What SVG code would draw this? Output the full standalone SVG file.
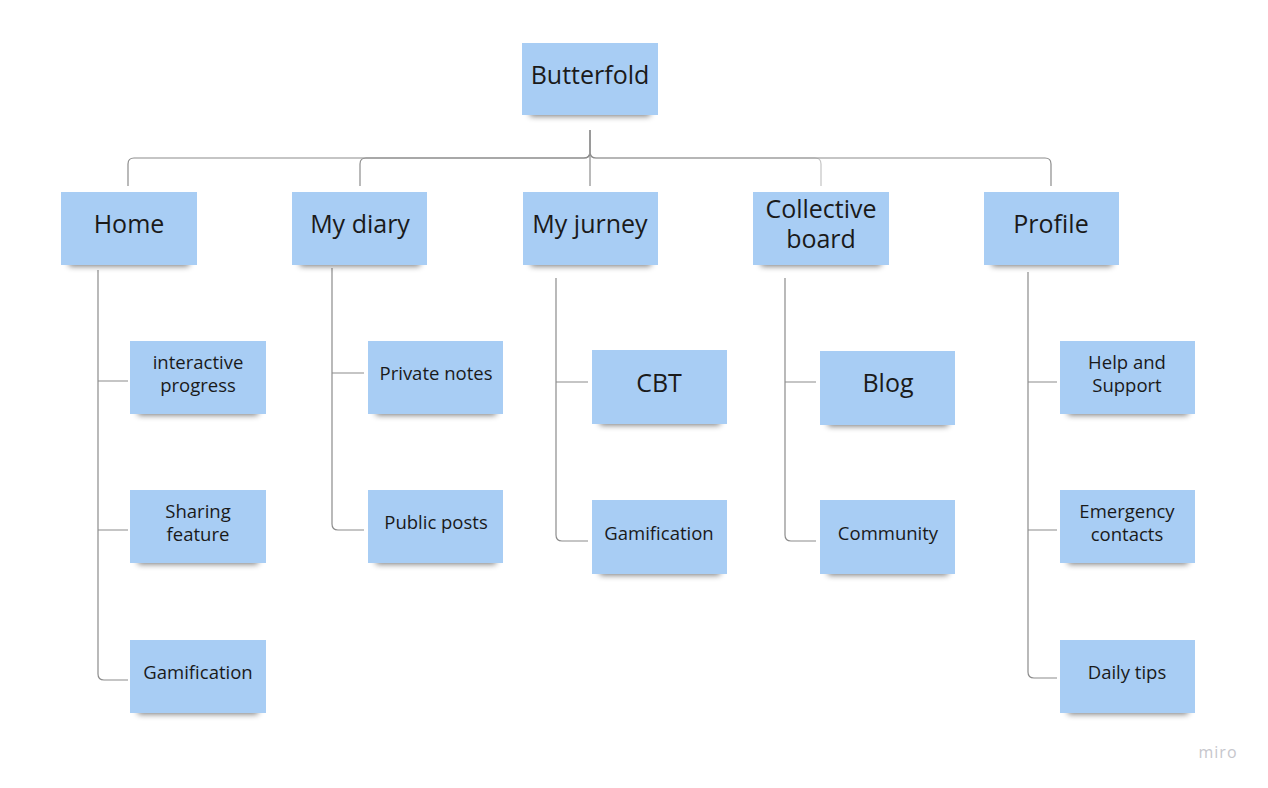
<svg xmlns="http://www.w3.org/2000/svg" width="1268" height="788" viewBox="0 0 1268 788">
<defs>
<filter id="blur" x="-20%" y="-100%" width="140%" height="300%"><feGaussianBlur stdDeviation="3"/></filter>
<style>
.note{fill:#a8cdf4}
.sh{fill:#000;opacity:.55;filter:url(#blur)}
.t{font-family:"Open Sans","Noto Sans",sans-serif;fill:#1a1a1a;text-anchor:middle;dominant-baseline:central}
.big{font-size:25px}
.sm{font-size:18.5px}
.c{fill:none;stroke:#8c8c8c;stroke-width:1.2}
</style>
</defs>
<rect width="1268" height="788" fill="#fff"/>
<g id="connectors">
<path class="c" d="M590 130 V152 Q590 158 584 158 H134 Q128 158 128 164 V186"/>
<path class="c" d="M590 130 V152 Q590 158 584 158 H366 Q360 158 360 164 V186"/>
<path class="c" d="M590 130 V186"/>
<path class="c" style="stroke:#c4c4c4" d="M590 130 V152 Q590 158 596 158 H815 Q821 158 821 164 V186"/>
<path class="c" d="M590 130 V152 Q590 158 596 158 H1045 Q1051 158 1051 164 V186"/>
<path class="c" d="M98 270 V674 Q98 680 104 680 H128 M98 381 H128 M98 530 H128"/>
<path class="c" d="M332 268 V524 Q332 530 338 530 H364 M332 373 H364"/>
<path class="c" d="M556 278 V535 Q556 541 562 541 H588 M556 382 H588"/>
<path class="c" d="M785 278 V535 Q785 541 791 541 H816 M785 382 H816"/>
<path class="c" d="M1028 272 V672 Q1028 678 1034 678 H1057 M1028 382 H1057 M1028 530 H1057"/>
</g>
<g id="butterfold"><rect class="sh" x="530" y="107" width="120" height="9"/><rect class="note" x="522" y="43" width="136" height="72"/><text class="t big" x="590" y="74">Butterfold</text></g>
<g id="home"><rect class="sh" x="69" y="257" width="120" height="9"/><rect class="note" x="61" y="192" width="136" height="73"/><text class="t big" x="129" y="223">Home</text></g>
<g id="mydiary"><rect class="sh" x="300" y="257" width="120" height="9"/><rect class="note" x="292" y="192" width="135" height="73"/><text class="t big" x="360" y="223">My diary</text></g>
<g id="myjurney"><rect class="sh" x="531" y="257" width="120" height="9"/><rect class="note" x="523" y="192" width="135" height="73"/><text class="t big" x="590" y="223">My jurney</text></g>
<g id="collective"><rect class="sh" x="761" y="257" width="120" height="9"/><rect class="note" x="753" y="192" width="136" height="73"/><text class="t big" x="821" y="208">Collective</text><text class="t big" x="821" y="238">board</text></g>
<g id="profile"><rect class="sh" x="992" y="257" width="120" height="9"/><rect class="note" x="984" y="192" width="135" height="73"/><text class="t big" x="1051" y="223">Profile</text></g>
<g id="interactive"><rect class="sh" x="138" y="406" width="120" height="9"/><rect class="note" x="130" y="341" width="136" height="73"/><text class="t sm" x="198" y="361">interactive</text><text class="t sm" x="198" y="384">progress</text></g>
<g id="sharing"><rect class="sh" x="138" y="555" width="120" height="9"/><rect class="note" x="130" y="490" width="136" height="73"/><text class="t sm" x="198" y="510">Sharing</text><text class="t sm" x="198" y="533">feature</text></g>
<g id="gamification1"><rect class="sh" x="138" y="705" width="120" height="9"/><rect class="note" x="130" y="640" width="136" height="73"/><text class="t sm" x="198" y="671">Gamification</text></g>
<g id="private"><rect class="sh" x="376" y="406" width="120" height="9"/><rect class="note" x="368" y="341" width="135" height="73"/><text class="t sm" x="436" y="372">Private notes</text></g>
<g id="public"><rect class="sh" x="376" y="555" width="120" height="9"/><rect class="note" x="368" y="490" width="135" height="73"/><text class="t sm" x="436" y="521">Public posts</text></g>
<g id="cbt"><rect class="sh" x="600" y="416" width="120" height="9"/><rect class="note" x="592" y="350" width="135" height="74"/><text class="t big" x="659" y="382">CBT</text></g>
<g id="gamification2"><rect class="sh" x="600" y="566" width="120" height="9"/><rect class="note" x="592" y="500" width="135" height="74"/><text class="t sm" x="659" y="532">Gamification</text></g>
<g id="blog"><rect class="sh" x="828" y="417" width="120" height="9"/><rect class="note" x="820" y="351" width="135" height="74"/><text class="t big" x="888" y="382">Blog</text></g>
<g id="community"><rect class="sh" x="828" y="566" width="120" height="9"/><rect class="note" x="820" y="500" width="135" height="74"/><text class="t sm" x="888" y="532">Community</text></g>
<g id="help"><rect class="sh" x="1068" y="406" width="120" height="9"/><rect class="note" x="1060" y="341" width="135" height="73"/><text class="t sm" x="1127" y="361">Help and</text><text class="t sm" x="1127" y="384">Support</text></g>
<g id="emergency"><rect class="sh" x="1068" y="555" width="120" height="9"/><rect class="note" x="1060" y="490" width="135" height="73"/><text class="t sm" x="1127" y="510">Emergency</text><text class="t sm" x="1127" y="533">contacts</text></g>
<g id="dailytips"><rect class="sh" x="1068" y="705" width="120" height="9"/><rect class="note" x="1060" y="640" width="135" height="73"/><text class="t sm" x="1127" y="671">Daily tips</text></g>
<text x="1218" y="752" style="font-family:'Open Sans',sans-serif;font-size:16px;fill:#c6c6cc;text-anchor:middle;dominant-baseline:central;letter-spacing:1px">miro</text>
</svg>
